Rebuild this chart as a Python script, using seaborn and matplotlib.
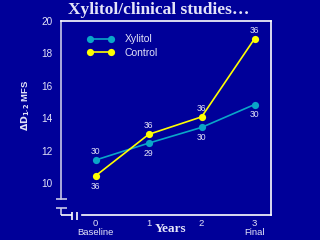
import matplotlib
matplotlib.use("Agg")
import matplotlib.pyplot as plt
import seaborn as sns
import pandas as pd
from matplotlib.lines import Line2D

# ---- data ----
years = [0, 1, 2, 3]
xylitol = [11.42, 12.46, 13.43, 14.84]
control = [10.45, 13.0, 14.08, 18.9]
xylitol_n = ["30", "29", "30", "30"]
control_n = ["36", "36", "36", "36"]
xtick_labels = ["0\nBaseline", "1", "2", "3\nFinal"]
yticks = [10, 12, 14, 16, 18, 20]

BG = "#000099"
TXT = "#e4e4f8"
CYAN = "#0aa6c8"
YEL = "#ffff00"
AXC = "#c8c8e8"

sns.set_style("white")
plt.rcParams["font.family"] = ["Liberation Sans", "DejaVu Sans"]

df = pd.DataFrame({
    "year": years * 2,
    "value": xylitol + control,
    "group": ["Xylitol"] * 4 + ["Control"] * 4,
})

fig = plt.figure(figsize=(3.2, 2.4), dpi=100, facecolor=BG)
ax = fig.add_axes([61 / 320, 1 - 215 / 240, 210 / 320, (215 - 20.8) / 240])
ax.set_facecolor(BG)

sns.lineplot(data=df, x="year", y="value", hue="group",
             palette={"Xylitol": CYAN, "Control": YEL},
             hue_order=["Xylitol", "Control"],
             marker="o", markersize=5.2, markeredgewidth=0,
             linewidth=1.2, legend=False, ax=ax)

ax.set_xlim(-0.656, 3.31)
ax.set_ylim(8.03, 20.0)

# annotations
for x, y, n in zip(years, xylitol, xylitol_n):
    off = 6 if x == 0 else -7.5
    ax.annotate(n, (x, y), xytext=(0, off), textcoords="offset points",
                ha="center", va="center", fontsize=6.2, color=TXT)
for x, y, n in zip(years, control, control_n):
    off = -7.5 if x == 0 else 6.2
    ax.annotate(n, (x, y), xytext=(0, off), textcoords="offset points",
                ha="center", va="center", fontsize=6.2, color=TXT)

# ticks
ax.set_xticks(years)
ax.set_xticklabels(xtick_labels)
ax.set_yticks(yticks)
ax.tick_params(axis="x", direction="in", length=5, width=1, color="white",
               labelcolor=TXT, labelsize=6.8, pad=3)
ax.tick_params(axis="y", direction="in", length=5, width=1, color=AXC,
               labelcolor=TXT, labelsize=7.2, pad=6)
for lab in ax.get_xticklabels():
    lab.set_linespacing(0.95)

# spines
for s in ["top", "right"]:
    ax.spines[s].set_color("white")
    ax.spines[s].set_linewidth(1.2)
ax.spines["left"].set_color(AXC)
ax.spines["left"].set_linewidth(1.2)
ax.spines["left"].set_bounds(9.0, 20.0)
ax.spines["bottom"].set_color("white")
ax.spines["bottom"].set_linewidth(1.2)
ax.spines["bottom"].set_bounds(-0.265, 3.31)

# axis-break decorations
kw = dict(color=AXC, lw=1.2, clip_on=False, solid_capstyle="butt")
ax.plot([-0.75, -0.548], [9.0, 9.0], **kw)
ax.plot([-0.75, -0.548], [8.44, 8.44], **kw)
ax.plot([-0.656, -0.656], [8.44, 8.03], **kw)
kw2 = dict(color="white", lw=1.2, clip_on=False, solid_capstyle="butt")
ax.plot([-0.656, -0.454], [8.03, 8.03], **kw2)
ax.plot([-0.454, -0.454], [8.23, 7.72], **kw2)
ax.plot([-0.348, -0.348], [8.23, 7.72], **kw2)

ax.set_xlabel("")
ax.set_ylabel("")

# y label
fig.text(26 / 320, 1 - 105 / 240, r"$\mathbf{\Delta D_{1\text{-}2}}$ MFS",
         rotation=90, ha="center", va="center", fontsize=6.8,
         fontweight="bold", color=TXT)

# x label
fig.text(171 / 320, 1 - 229 / 240, "Years", ha="center", va="center",
         fontsize=9.5, fontweight="bold", family="Liberation Serif", color=TXT)

# title
fig.text(158.5 / 320, 1 - 10.5 / 240, "Xylitol/clinical studies\u2026",
         ha="center", va="center", fontsize=12.5, fontweight="bold",
         family="Liberation Serif", color=TXT)

# legend
handles = [Line2D([], [], color=CYAN, marker="o", markersize=5.2, lw=1.2, markeredgewidth=0),
           Line2D([], [], color=YEL, marker="o", markersize=5.2, lw=1.2, markeredgewidth=0)]
leg = ax.legend(handles, ["Xylitol", "Control"], numpoints=2, frameon=False,
                loc="upper left", bbox_to_anchor=(87 / 320, 1 - 34.5 / 240),
                bbox_transform=fig.transFigure, fontsize=7.5,
                handlelength=2.6, handletextpad=1.0, labelspacing=0.3,
                borderpad=0, borderaxespad=0)
for t in leg.get_texts():
    t.set_color(TXT)

fig.savefig("out.png", dpi=100, facecolor=BG)
